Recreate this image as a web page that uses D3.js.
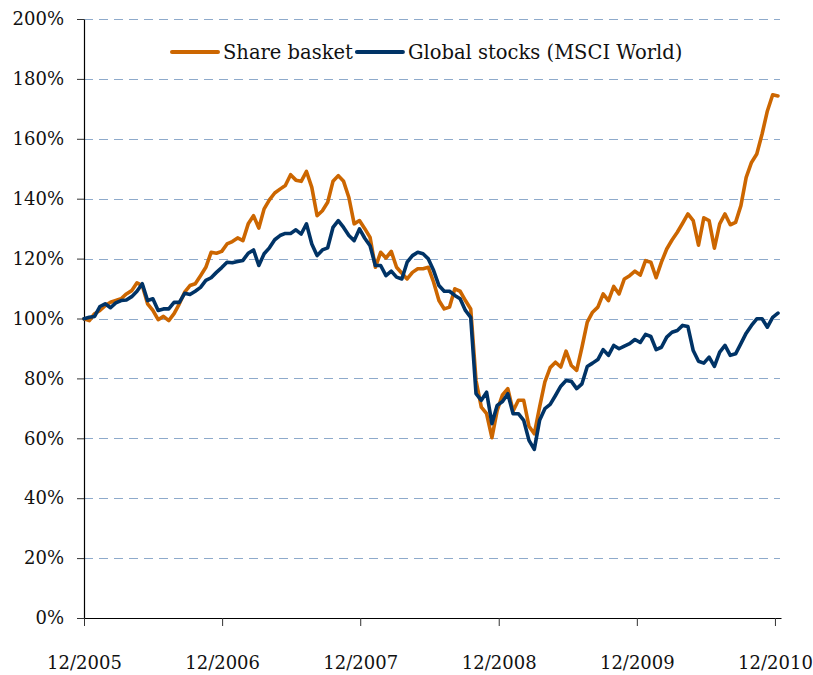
<!DOCTYPE html>
<html>
<head>
<meta charset="utf-8">
<script src="https://cdn.jsdelivr.net/npm/d3@7"></script>
<style>
  body { margin: 0; background: #fff; }
  svg { display: block; }
  text { font-family: "DejaVu Serif", serif; fill: #111; }
</style>
</head>
<body>
<svg id="chart" width="813" height="675"></svg>
<script>
// biweekly readings, first one on 1 Dec 2005
const firstDate = new Date(2005, 11, 1);
const stepDays = 14;

// index level, % of start value
const shareBasket = [
  99.9, 99.3, 101.6, 102.7, 104.3, 105.4, 106, 106.6, 108.2, 109.3,
  111.9, 111, 104.9, 102.7, 99.6, 100.7, 99.3, 101.6, 104.9, 108.8,
  111, 111.6, 114.3, 117.1, 122.1, 121.8, 122.4, 124.9, 125.7, 126.9,
  126, 131.6, 134.3, 130.2, 136.6, 139.6, 141.9, 143.2, 144.4, 148,
  146.2, 145.8, 149.1, 143.8, 134.3, 136, 138.8, 145.8, 147.7, 145.8,
  140.4, 131.6, 132.7, 130, 127.1, 117.1, 122.1, 120.2, 122.4, 117.1,
  115.1, 113.2, 115.4, 116.6, 116.6, 117.1, 112.1, 106, 103.2, 103.8,
  109.9, 109.1, 106, 103.2, 79.3, 70.4, 68.2, 60.2, 69.3, 74.5,
  76.6, 69.1, 72.7, 72.7, 64, 61.5, 70.4, 78.8, 83.6, 85.4,
  83.8, 89.1, 84.3, 82.7, 90.4, 98.8, 102.1, 103.8, 108.2, 106,
  110.7, 108.2, 113.2, 114.3, 115.8, 114.5, 119.3, 118.8, 113.6, 118.8,
  123.2, 126.2, 128.8, 131.8, 134.9, 132.7, 124.5, 133.6, 132.7, 123.5,
  131.6, 134.9, 131.3, 132.1, 137.7, 147.1, 152.1, 154.9, 161.6, 169.3,
  174.7, 174.3
];
const msciWorld = [
  99.9, 100.4, 100.7, 104, 104.9, 103.6, 105.2, 106, 106.2, 107.3,
  109.1, 111.6, 106, 106.6, 102.7, 103.2, 103.2, 105.4, 105.4, 108.4,
  108, 109.1, 110.4, 112.7, 113.6, 115.4, 117, 118.8, 118.6, 119,
  119.4, 121.8, 122.9, 117.7, 121.6, 123.6, 126.3, 127.7, 128.4, 128.4,
  129.6, 128.2, 131.6, 124.9, 121, 122.9, 123.6, 130.4, 132.7, 130.4,
  127.7, 126, 129.9, 126.8, 124.3, 117.7, 117.7, 114.3, 115.8, 113.8,
  113.2, 118.8, 121, 122.1, 121.6, 119.9, 116, 111, 109.1, 109.1,
  107.7, 106.6, 102.7, 100.4, 74.9, 72.7, 75.4, 64.9, 71, 72.3,
  74.9, 68.2, 68.2, 66, 59.3, 56.3, 66, 69.9, 71.3, 74.3,
  77.4, 79.3, 79, 76.6, 78.2, 84, 85.1, 86.3, 89.6, 87.7,
  91, 89.9, 90.8, 91.6, 93, 92, 94.7, 94, 89.6, 90.4,
  93.8, 95.4, 96, 97.7, 97.3, 89.3, 85.7, 85.1, 87.1, 84,
  88.8, 91, 87.7, 88.2, 91.6, 95.1, 97.7, 99.9, 99.9, 97.1,
  100.4, 101.8
];

const seriesNames = ["Share basket", "Global stocks (MSCI World)"];
const seriesColors = ["#CC6600", "#003366"];
const yTicks = [0, 20, 40, 60, 80, 100, 120, 140, 160, 180, 200];
const xTickYears = [2005, 2006, 2007, 2008, 2009, 2010];

const svg = d3.select("#chart");
const margin = { top: 19, right: 32, bottom: 57, left: 84 };
const width = +svg.attr("width");
const height = +svg.attr("height");
const plotW = width - margin.left - margin.right;
const plotH = height - margin.top - margin.bottom;

const dates = shareBasket.map((d, i) => d3.timeDay.offset(firstDate, i * stepDays));

const x = d3.scaleTime()
  .domain([firstDate, new Date(2010, 11, 17)])
  .range([0, plotW]);
const y = d3.scaleLinear()
  .domain([0, 200])
  .range([plotH, 0]);

const g = svg.append("g")
  .attr("transform", `translate(${margin.left},${margin.top})`);

// dashed gridlines
g.append("g")
  .selectAll("line")
  .data(yTicks.filter(d => d > 0))
  .enter()
  .append("line")
  .attr("x1", 0)
  .attr("x2", plotW - 1)
  .attr("y1", d => Math.round(y(d)) + 0.5)
  .attr("y2", d => Math.round(y(d)) + 0.5)
  .attr("stroke", "#8eaacb")
  .attr("stroke-width", 1.2)
  .attr("stroke-dasharray", "9,6");

// axes
const yAxis = g.append("g")
  .call(d3.axisLeft(y)
    .tickValues(yTicks)
    .tickSize(7)
    .tickSizeOuter(0)
    .tickPadding(13)
    .tickFormat(d => d + "%"));

const xAxis = g.append("g")
  .attr("transform", `translate(0,${plotH})`)
  .call(d3.axisBottom(x)
    .tickValues(xTickYears.map(yr => new Date(yr, 11, 1)))
    .tickSize(8)
    .tickSizeOuter(0)
    .tickPadding(30)
    .tickFormat(d3.timeFormat("%m/%Y")));

[yAxis, xAxis].forEach(ax => {
  ax.select(".domain").attr("stroke", "#000").attr("stroke-width", 1.2);
  ax.selectAll(".tick line").attr("stroke", "#333");
  ax.selectAll(".tick text")
    .style("font-family", "'DejaVu Serif', serif")
    .style("font-size", "18px")
    .attr("fill", "#111");
});

// lines
const line = d3.line()
  .x((d, i) => x(dates[i]))
  .y(d => y(d));

[shareBasket, msciWorld].forEach((vals, k) => {
  g.append("path")
    .datum(vals)
    .attr("fill", "none")
    .attr("stroke", seriesColors[k])
    .attr("stroke-width", 3.6)
    .attr("stroke-linejoin", "round")
    .attr("stroke-linecap", "round")
    .attr("d", line);
});

// legend
const legend = svg.append("g").attr("transform", "translate(172,52)");
let lx = 0;
seriesNames.forEach((name, k) => {
  legend.append("line")
    .attr("x1", lx).attr("x2", lx + 46)
    .attr("y1", 0).attr("y2", 0)
    .attr("stroke", seriesColors[k])
    .attr("stroke-width", 4)
    .attr("stroke-linecap", "round");
  const t = legend.append("text")
    .attr("x", lx + 51)
    .attr("y", 6.5)
    .style("font-size", "19.5px")
    .text(name);
  lx = lx + 51 + t.node().getComputedTextLength() + 4;
});
</script>
</body>
</html>
